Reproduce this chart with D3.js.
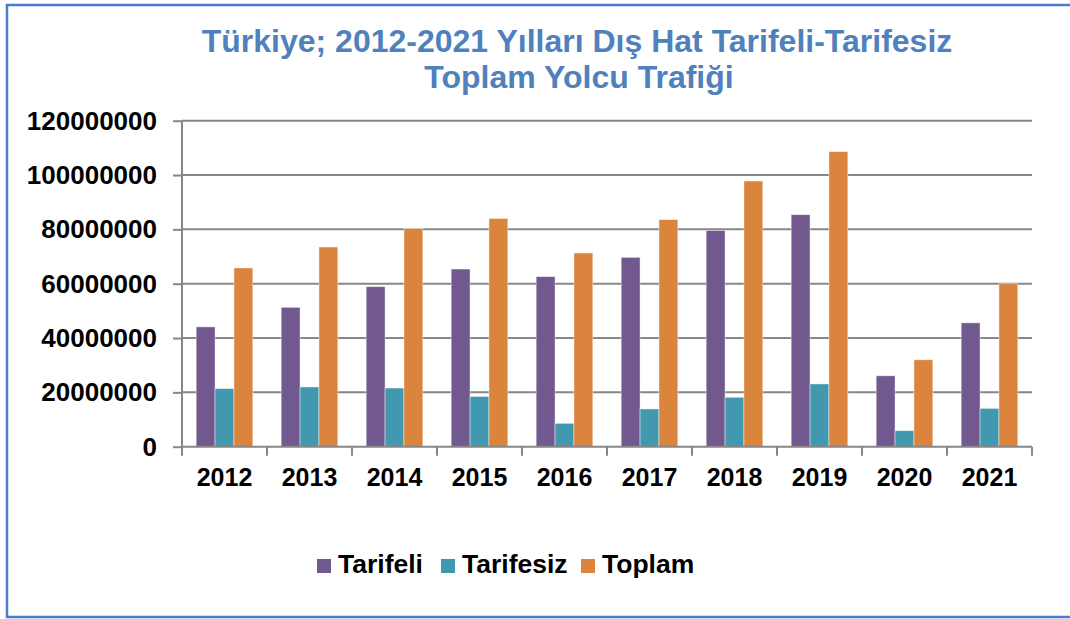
<!DOCTYPE html>
<html>
<head>
<meta charset="utf-8">
<script src="https://cdn.jsdelivr.net/npm/d3@7"></script>
<style>
  html, body { margin: 0; padding: 0; background: #fff; }
  svg { display: block; font-family: Arial, "Liberation Sans", sans-serif; }
</style>
</head>
<body>
<svg id="chart" width="1070" height="619"></svg>
<script>
const titleLines = ["Türkiye; 2012-2021 Yılları Dış Hat Tarifeli-Tarifesiz", "Toplam Yolcu Trafiği"];
const years = ["2012","2013","2014","2015","2016","2017","2018","2019","2020","2021"];
const seriesNames = ["Tarifeli", "Tarifesiz", "Toplam"];
const tarifeli  = [44100000, 51300000, 58900000, 65400000, 62600000, 69700000, 79600000, 85400000, 26100000, 45600000];
const tarifesiz = [21400000, 22000000, 21600000, 18500000,  8600000, 13900000, 18200000, 23100000,  5900000, 14100000];
const toplam    = [65800000, 73500000, 80300000, 84000000, 71300000, 83600000, 97800000, 108600000, 32000000, 60000000];
const yTicks = [0, 20000000, 40000000, 60000000, 80000000, 100000000, 120000000];
const colors = ["#71588F", "#4198AF", "#DB843D"];

(function () {
const seriesValues = [tarifeli, tarifesiz, toplam];
const svg = d3.select("#chart");

// outer border
svg.append("rect").attr("x", 7).attr("y", 5).attr("width", 1100).attr("height", 612)
  .attr("fill", "none").attr("stroke", "#4A7BD0").attr("stroke-width", 2.5);

// title
svg.append("text").attr("x", 577).attr("y", 52).attr("text-anchor", "middle")
  .attr("font-size", 32).attr("font-weight", "bold").attr("fill", "#4F81BD").text(titleLines[0]);
svg.append("text").attr("x", 579).attr("y", 88).attr("text-anchor", "middle")
  .attr("font-size", 32).attr("font-weight", "bold").attr("fill", "#4F81BD").text(titleLines[1]);

const pL = 182, pR = 1032, pT = 120.7, pB = 446.7;
const x0 = d3.scaleBand().domain(years).range([pL, pR]).paddingInner(0).paddingOuter(0);
const groupW = x0.bandwidth() * 3 / 4.5;
const x1 = d3.scaleBand().domain(seriesNames).range([0, groupW]).padding(0);
const y = d3.scaleLinear().domain([0, 120000000]).range([pB, pT]);

// gridlines
svg.append("g").selectAll("line").data(yTicks.filter(d => d > 0)).join("line")
  .attr("x1", pL).attr("x2", pR).attr("y1", d => y(d)).attr("y2", d => y(d))
  .attr("stroke", "#878787").attr("stroke-width", 2);

// y axis
const yAxis = svg.append("g").attr("transform", `translate(${pL},0)`)
  .call(d3.axisLeft(y).tickValues(yTicks).tickSize(9).tickPadding(16).tickFormat(d3.format("d")));
yAxis.select(".domain").attr("stroke", "#878787").attr("stroke-width", 2).attr("d", `M0,${pT}V${pB}`);
yAxis.selectAll(".tick line").attr("stroke", "#878787").attr("stroke-width", 2);
yAxis.selectAll(".tick text").attr("font-size", 26).attr("font-weight", "bold").attr("fill", "#000")
  .attr("font-family", "Arial, 'Liberation Sans', sans-serif");

// bars
const groups = svg.append("g").selectAll("g").data(years).join("g")
  .attr("transform", d => `translate(${x0(d) + (x0.bandwidth() - groupW) / 2},0)`);
groups.selectAll("rect").data((d, i) => seriesNames.map((s, k) => ({s, k, v: seriesValues[k][i]}))).join("rect")
  .attr("x", d => x1(d.s)).attr("width", x1.bandwidth())
  .attr("y", d => y(d.v)).attr("height", d => y(0) - y(d.v))
  .attr("fill", d => colors[d.k])
  .attr("stroke", "rgba(255,255,255,0.55)").attr("stroke-width", 0.8);

// x axis
const xAxis = svg.append("g").attr("transform", `translate(0,${pB})`)
  .call(d3.axisBottom(x0).tickSize(0).tickPadding(30));
xAxis.select(".domain").attr("stroke", "#878787").attr("stroke-width", 2).attr("d", `M${pL},0H${pR}`);
xAxis.selectAll(".tick text").attr("font-size", 25).attr("font-weight", "bold").attr("fill", "#000")
  .attr("font-family", "Arial, 'Liberation Sans', sans-serif").attr("dy", "0.32em").attr("y", 31);
// boundary ticks
xAxis.append("g").selectAll("line").data(years.map(d => x0(d)).concat([pR])).join("line")
  .attr("x1", d => d).attr("x2", d => d).attr("y1", 0).attr("y2", 9)
  .attr("stroke", "#878787").attr("stroke-width", 2);

// legend
const legendX = [317, 441, 581];
const legend = svg.append("g").selectAll("g").data(seriesNames).join("g")
  .attr("transform", (d, i) => `translate(${legendX[i]},558)`);
legend.append("rect").attr("y", 1).attr("width", 14).attr("height", 14).attr("fill", (d, i) => colors[i]);
legend.append("text").attr("x", 21).attr("y", 15).attr("font-size", 26.5).attr("font-weight", "bold")
  .attr("fill", "#000").text(d => d);
})();
</script>
</body>
</html>
